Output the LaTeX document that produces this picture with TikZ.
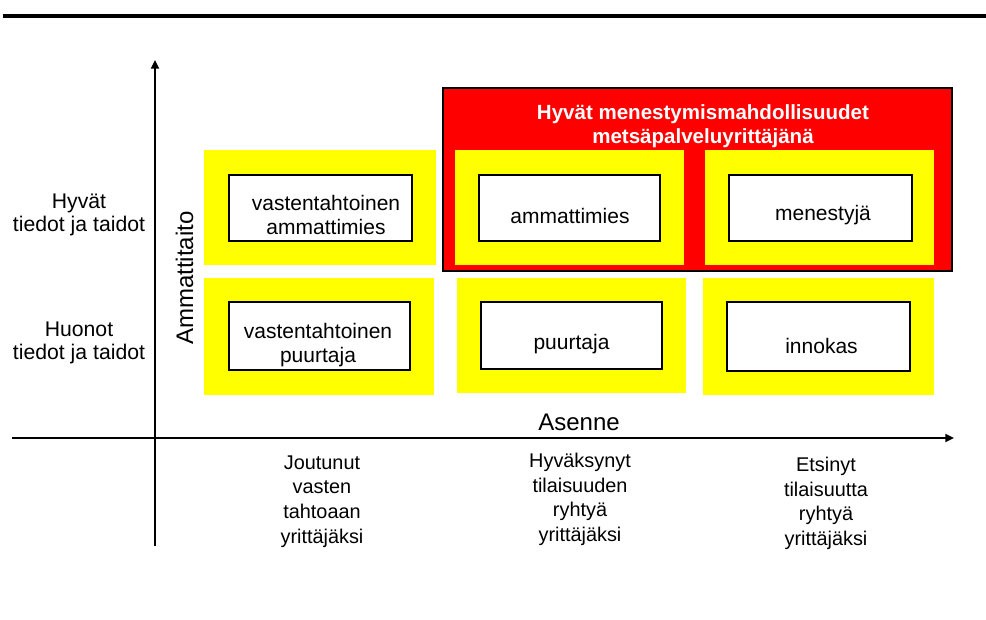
\documentclass[tikz,border=0pt]{standalone}
\usepackage{fontspec}
\setmainfont{Liberation Sans}
\usetikzlibrary{arrows.meta}
\definecolor{ylw}{RGB}{255,255,0}
\definecolor{rd}{RGB}{255,0,0}
\begin{document}
\begin{tikzpicture}[x=0.75pt,y=-0.75pt,
  wbox/.style={fill=white,draw=black,line width=1.5pt,inner sep=0},
  yfill/.style={fill=ylw,draw=none,inner sep=0},
  boxtext/.style={font=\fontsize{15.75pt}{18pt}\selectfont,align=center,inner sep=0,anchor=base},
  titletext/.style={font=\bfseries\fontsize{15.4pt}{18pt}\selectfont,text=white,align=center,inner sep=0,anchor=base},
  sidelabel/.style={font=\fontsize{15.9pt}{17.25pt}\selectfont,align=center,inner sep=0,anchor=base},
  bottomlabel/.style={font=\fontsize{14.9pt}{18.4pt}\selectfont,align=center,inner sep=0,anchor=base},
  axistitle/.style={font=\fontsize{18pt}{21pt}\selectfont,inner sep=0,anchor=base},
  axis/.style={line width=1.4pt,-{Triangle[length=6.5pt,width=6pt]}}
]
\useasboundingbox (0,0) rectangle (986,619);
% top rule
\coordinate (ruleL) at (3,15.5);
\coordinate (ruleR) at (986,15.5);
\draw[line width=3pt] (ruleL) -- (ruleR);

% axes
\coordinate (vaxB) at (155,546);
\coordinate (vaxT) at (155,60);
\coordinate (haxL) at (12,438);
\coordinate (haxR) at (954,438);
\draw[axis] (vaxB) -- (vaxT);
\draw[axis] (haxL) -- (haxR);

% red region
\node[fill=rd,draw=black,line width=1.5pt,inner sep=0,minimum width=509*0.75pt,minimum height=183*0.75pt] (red) at (697.5,179.5) {};
\node[titletext] (title) at (703,143) {Hyvät menestymismahdollisuudet\\metsäpalveluyrittäjänä};

% yellow boxes
\node[yfill,minimum width=232*0.75pt,minimum height=115*0.75pt] (yTL) at (320,207.5) {};
\node[yfill,minimum width=230*0.75pt,minimum height=117*0.75pt] (yBL) at (319,336.5) {};
\node[yfill,minimum width=229*0.75pt,minimum height=115*0.75pt] (yAM) at (569.5,207.5) {};
\node[yfill,minimum width=229*0.75pt,minimum height=115*0.75pt] (yME) at (819.5,207.5) {};
\node[yfill,minimum width=229*0.75pt,minimum height=115*0.75pt] (yPU) at (571.5,335.5) {};
\node[yfill,minimum width=231*0.75pt,minimum height=117*0.75pt] (yIN) at (818.5,336.5) {};

% white boxes
\node[wbox,minimum width=183*0.75pt,minimum height=66*0.75pt] (wTL) at (320.5,208) {};
\node[wbox,minimum width=181*0.75pt,minimum height=68*0.75pt] (wBL) at (319.5,336) {};
\node[wbox,minimum width=181*0.75pt,minimum height=66*0.75pt] (wAM) at (569.5,208) {};
\node[wbox,minimum width=183*0.75pt,minimum height=66*0.75pt] (wME) at (820.5,208) {};
\node[wbox,minimum width=181*0.75pt,minimum height=67*0.75pt] (wPU) at (571.5,335.5) {};
\node[wbox,minimum width=183*0.75pt,minimum height=69*0.75pt] (wIN) at (818.5,336.5) {};

% box texts
\node[boxtext] (tTL) at (326,234) {vastentahtoinen\\ammattimies};
\node[boxtext] (tBL) at (318,362) {vastentahtoinen\\puurtaja};
\node[boxtext] (tAM) at (570,223) {ammattimies};
\node[boxtext] (tME) at (823,220) {menestyjä};
\node[boxtext] (tPU) at (571.5,349) {puurtaja};
\node[boxtext] (tIN) at (821.5,353) {innokas};

% side labels
\node[sidelabel] (good) at (79,231) {Hyvät\\tiedot ja taidot};
\node[sidelabel] (poor) at (79,359) {Huonot\\tiedot ja taidot};
\node[axistitle,rotate=90] (ammattitaito) at (193,278) {Ammattitaito};
\node[axistitle] (asenne) at (579,430) {Asenne};

% bottom labels
\node[bottomlabel] (bl1) at (322,543) {Joutunut\\vasten\\tahtoaan\\yrittäjäksi};
\node[bottomlabel] (bl2) at (580,541.5) {Hyväksynyt\\tilaisuuden\\ryhtyä\\yrittäjäksi};
\node[bottomlabel] (bl3) at (826,545.5) {Etsinyt\\tilaisuutta\\ryhtyä\\yrittäjäksi};
\end{tikzpicture}
\end{document}
